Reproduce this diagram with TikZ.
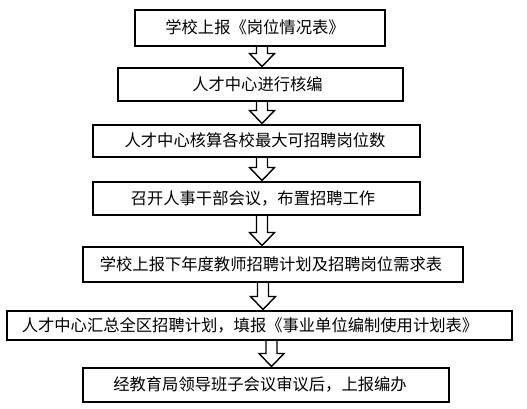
\documentclass[tikz,border=0pt]{standalone}
\usepackage{fontspec}
\newfontfamily\cjk{Noto Sans CJK SC}
\usetikzlibrary{calc}
\tikzset{
  boxst/.style={draw, line width=1.8pt, inner sep=0pt, outer sep=0pt},
  txtst/.style={inner sep=0pt, font=\cjk\fontsize{16.3pt}{18pt}\selectfont},
  arrst/.style={draw, line width=1.4pt, line join=miter},
}
\newcommand\blkarrow[3]{%
  \draw[arrst] let \p0=(#3), \p1=(#1.south), \p2=(#2.north) in
    (\x0-5.5pt,\y1) -- (\x0-5.5pt,\y2+14.5pt) -- (\x0-12.5pt,\y2+14.5pt)
    -- (\x0,\y2+1.5pt) -- (\x0+12.5pt,\y2+14.5pt) -- (\x0+5.5pt,\y2+14.5pt)
    -- (\x0+5.5pt,\y1);}
\begin{document}
\begin{tikzpicture}[x=1pt,y=-1pt]
\useasboundingbox (0,0) rectangle (527,409);
\fill[white] (0,0) rectangle (527,409);
% boxes
\node[boxst, minimum width=250pt, minimum height=36pt] (b1) at (260,28) {};
\node[boxst, minimum width=285pt, minimum height=33pt] (b2) at (260.5,84.5) {};
\node[boxst, minimum width=327pt, minimum height=32pt] (b3) at (256.5,141) {};
\node[boxst, minimum width=327pt, minimum height=33pt] (b4) at (256.5,198.5) {};
\node[boxst, minimum width=380pt, minimum height=35pt] (b5) at (273,264.5) {};
\node[boxst, minimum width=505pt, minimum height=29pt] (b6) at (259.5,325.5) {};
\node[boxst, minimum width=366pt, minimum height=34pt] (b7) at (266,385) {};
% texts
\node[txtst] (t1) at (255,27) {学校上报《岗位情况表》};
\node[txtst] (t2) at (257.5,84) {人才中心进行核编};
\node[txtst] (t3) at (255,140.5) {人才中心核算各校最大可招聘岗位数};
\node[txtst] (t4) at (253,198) {召开人事干部会议，布置招聘工作};
\node[txtst] (t5) at (271,264) {学校上报下年度教师招聘计划及招聘岗位需求表};
\node[txtst] (t6) at (250,325) {人才中心汇总全区招聘计划，填报《事业单位编制使用计划表》};
\node[txtst] (t7) at (260,384.5) {经教育局领导班子会议审议后，上报编办};
% arrow axes
\coordinate (a1) at (262,0);
\coordinate (a2) at (262,0);
\coordinate (a3) at (262,0);
\coordinate (a4) at (262,0);
\coordinate (a5) at (263,0);
\coordinate (a6) at (271.5,0);
\blkarrow{b1}{b2}{a1}
\blkarrow{b2}{b3}{a2}
\blkarrow{b3}{b4}{a3}
\blkarrow{b4}{b5}{a4}
\blkarrow{b5}{b6}{a5}
\blkarrow{b6}{b7}{a6}
\end{tikzpicture}
\end{document}
